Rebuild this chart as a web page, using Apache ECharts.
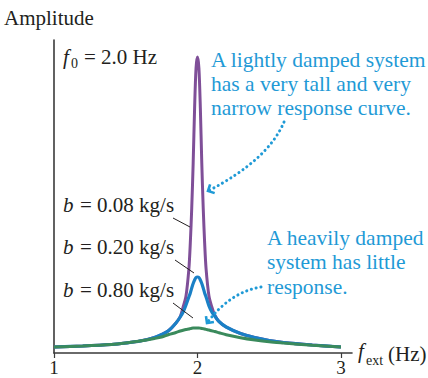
<!DOCTYPE html>
<html>
<head>
<meta charset="utf-8">
<script src="https://cdn.jsdelivr.net/npm/echarts@6/dist/echarts.min.js"></script>
<style>
html,body{margin:0;padding:0;background:#fff;}
#c{width:428px;height:378px;}
</style>
</head>
<body>
<div id="c"></div>
<script>
// Driving frequency (Hz)
var freq = [1.0, 1.2, 1.4, 1.5, 1.6, 1.7, 1.75, 1.8, 1.85, 1.88, 1.9, 1.92, 1.94, 1.95, 1.96, 1.97, 1.98, 1.99, 2.0,
            2.01, 2.02, 2.03, 2.04, 2.05, 2.06, 2.08, 2.1, 2.12, 2.15, 2.2, 2.3, 2.4, 2.5, 2.6, 2.8, 3.0];
// Amplitude (arbitrary units) for each damping constant
var ampB008 = [6, 7, 8.5, 10, 12, 15.5, 18.5, 22.5, 30, 36.5, 46, 57, 84, 110, 145, 190, 245, 285, 296,
               285, 245, 190, 145, 110, 84, 57, 46, 38, 31.5, 26, 19.5, 15.5, 12.5, 10.5, 8, 6];
var ampB020 = [6, 7, 8.5, 10, 12, 15.5, 18.5, 22.5, 30, 36, 41, 48, 56, 60, 65, 69.5, 73, 75.5, 76,
               75.5, 73, 69.5, 65, 60, 56, 47, 41, 37, 31.5, 26, 19.5, 15.5, 12.5, 10.5, 8, 6];
var ampB080 = [6, 7, 8.5, 10, 12, 14.5, 16, 18.5, 20.5, 22, 22.8, 23.5, 24, 24.4, 24.7, 24.9, 25, 25, 25,
               25, 24.8, 24.6, 24.3, 24, 23.6, 23, 22.2, 21.5, 20.3, 18.3, 15.3, 13, 11.2, 10, 7.8, 6];
var seriesNames = ['b = 0.08 kg/s', 'b = 0.20 kg/s', 'b = 0.80 kg/s'];
var xTicks = [1, 2, 3];

function pairs(a){ return freq.map(function(f,i){ return [f, a[i]]; }); }

var SERIF = 'Liberation Serif';
var CYAN = '#1f9ad6';
var INK = '#231f20';
var FS = 21;

function txt(s, x, y, opt){
  opt = opt || {};
  return {type:'text', z:100, style:{text:s, x:x, y:y, fill:opt.fill||INK, fontFamily:SERIF,
    fontSize:opt.size||FS, fontStyle:opt.italic?'italic':'normal',
    textAlign:opt.align||'left', textVerticalAlign:'middle'}};
}
function seg(x1,y1,x2,y2){
  return {type:'line', z:100, shape:{x1:x1,y1:y1,x2:x2,y2:y2}, style:{stroke:INK, lineWidth:1}};
}
function dotted(x1,y1,cx,cy,x2,y2){
  var dx = x2-cx, dy = y2-cy, L = Math.sqrt(dx*dx+dy*dy);
  var bx = -dx/L, by = -dy/L, c = Math.SQRT1_2, len = 7;
  var b1 = [ (bx*c - by*c)*len, (bx*c + by*c)*len ];
  var b2 = [ (bx*c + by*c)*len, (-bx*c + by*c)*len ];
  return [
    {type:'bezierCurve', z:100, shape:{x1:x1,y1:y1,cpx1:cx,cpy1:cy,x2:x2,y2:y2},
      style:{stroke:CYAN, lineWidth:3, lineDash:[0.1,4.8], lineCap:'round', fill:null}},
    {type:'polyline', z:100, shape:{points:[[x2+b1[0],y2+b1[1]],[x2,y2],[x2+b2[0],y2+b2[1]]]},
      style:{stroke:CYAN, lineWidth:2.6, fill:null, lineJoin:'miter'}}
  ];
}

var graphics = [
  txt('Amplitude', 4, 18),
  txt('f', 63, 57, {italic:true}),
  txt('0', 71, 63, {size:14}),
  txt('= 2.0 Hz', 84, 57),
  txt('A lightly damped system', 211, 60, {fill:CYAN, size:21.5}),
  txt('has a very tall and very', 211, 84, {fill:CYAN, size:21.5}),
  txt('narrow response curve.', 211, 108, {fill:CYAN, size:21.5}),
  txt('A heavily damped', 267, 238, {fill:CYAN, size:21.5}),
  txt('system has little', 267, 262, {fill:CYAN, size:21.5}),
  txt('response.', 267, 287, {fill:CYAN, size:21.5}),
  txt('b', 63, 205, {italic:true}), txt('= 0.08 kg/s', 80, 205),
  txt('b', 63, 247, {italic:true}), txt('= 0.20 kg/s', 80, 247),
  txt('b', 63, 290, {italic:true}), txt('= 0.80 kg/s', 80, 290),
  seg(173,218,190,227),
  seg(175,260,194,273),
  seg(173,303,193,318),
  txt('f', 358, 351, {italic:true}),
  txt('ext', 366, 360, {size:14}),
  txt('(Hz)', 388, 354)
].concat(dotted(284,122,268,160,208,191)).concat(dotted(261,287,230,292,207,323));

var chart = echarts.init(document.getElementById('c'), null, {renderer:'svg'});
chart.setOption({
  animation:false,
  backgroundColor:'#fff',
  grid:{left:54, top:40, width:298, height:313, containLabel:false, outerBoundsMode:'none'},
  xAxis:{type:'value', min:1, max:3.077, interval:1,
    axisLine:{show:true, onZero:false, lineStyle:{color:'#3a3a3a', width:1.6}},
    axisTick:{show:true, length:5, customValues:xTicks, lineStyle:{color:'#3a3a3a', width:1.2}},
    axisLabel:{show:true, customValues:xTicks, margin:5, lineHeight:19, color:INK, fontFamily:SERIF, fontSize:19},
    splitLine:{show:false}},
  yAxis:{type:'value', min:0, max:313,
    axisLine:{show:true, onZero:false, lineStyle:{color:'#3a3a3a', width:1.6}},
    axisTick:{show:false}, axisLabel:{show:false}, splitLine:{show:false}},
  series:[
    {name:seriesNames[0], type:'line', data:pairs(ampB008), showSymbol:false, smooth:0.3, z:2,
      lineStyle:{color:'#7f4f98', width:3}},
    {name:seriesNames[1], type:'line', data:pairs(ampB020), showSymbol:false, smooth:0.3, z:3,
      lineStyle:{color:'#1a80c6', width:3.2}},
    {name:seriesNames[2], type:'line', data:pairs(ampB080), showSymbol:false, smooth:0.3, z:4,
      lineStyle:{color:'#3a8a5c', width:3}}
  ],
  graphic:graphics
});
</script>
</body>
</html>
